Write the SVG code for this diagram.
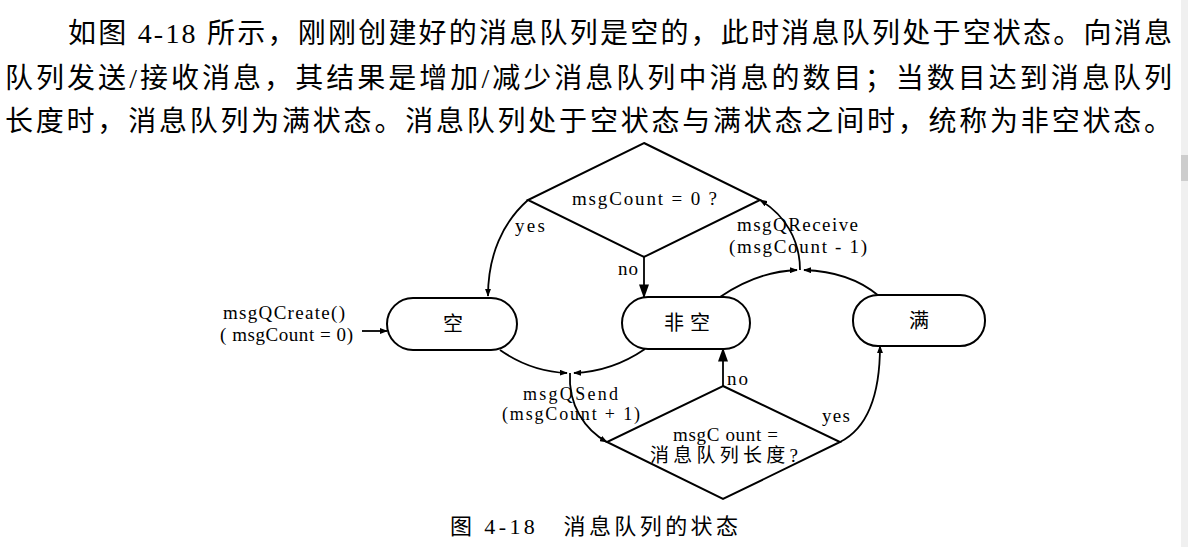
<svg xmlns="http://www.w3.org/2000/svg" width="1188" height="547" viewBox="0 0 1188 547">
<defs>
<style>
.body{font-family:"Liberation Serif","Noto Sans CJK SC",serif;font-size:28px;fill:#000}
.lbl{font-family:"Liberation Serif","Noto Sans CJK SC",serif;font-size:19px;fill:#000}
.sm{font-size:18px}
.nd{font-family:"Liberation Serif","Noto Sans CJK SC",serif;font-size:20px;fill:#000;text-anchor:middle}
.cap{font-family:"Liberation Serif","Noto Sans CJK SC",serif;font-size:22px;fill:#000}
.shape{fill:#fff;stroke:#000;stroke-width:2}
.ln{fill:none;stroke:#000;stroke-width:1.8}
</style>
<marker id="ar" viewBox="0 0 10 10" refX="9" refY="5" markerWidth="8" markerHeight="6" markerUnits="userSpaceOnUse" orient="auto" preserveAspectRatio="none">
<path d="M0,0 L10,5 L0,10 Z" fill="#000"/>
</marker>
<marker id="arb" viewBox="0 0 10 10" refX="9" refY="5" markerWidth="14" markerHeight="10" markerUnits="userSpaceOnUse" orient="auto" preserveAspectRatio="none">
<path d="M0,0 L10,5 L0,10 Z" fill="#000"/>
</marker>
</defs>
<rect x="0" y="0" width="1188" height="547" fill="#fff"/>
<rect x="1181" y="0" width="7" height="547" fill="#f0f0f0"/>
<rect x="1181" y="155" width="7" height="26" fill="#cdcdcd"/>

<g id="paragraph">
<text class="body" x="68" y="43" textLength="1104" lengthAdjust="spacing">如图 4-18 所示，刚刚创建好的消息队列是空的，此时消息队列处于空状态。向消息</text>
<text class="body" x="5" y="88" textLength="1167" lengthAdjust="spacing">队列发送/接收消息，其结果是增加/减少消息队列中消息的数目；当数目达到消息队列</text>
<text class="body" x="5" y="131" textLength="1167" lengthAdjust="spacing">长度时，消息队列为满状态。消息队列处于空状态与满状态之间时，统称为非空状态。</text>
</g>

<g id="connectors">
<path class="ln" d="M528,200 C503,222 488,255 488,296" marker-end="url(#ar)"/>
<path class="ln" d="M644,257 L644,297" marker-end="url(#arb)"/>
<path class="ln" d="M362,331 L387,331" marker-end="url(#ar)"/>
<path class="ln" d="M500,350 C520,364 542,372 567,373" marker-end="url(#ar)"/>
<path class="ln" d="M645,349 C626,362 602,372 574,373" marker-end="url(#ar)"/>
<path class="ln" d="M570,373 C568,405 585,430 607,442" marker-end="url(#ar)"/>
<path class="ln" d="M723,386 L723,349" marker-end="url(#arb)"/>
<path class="ln" d="M840,442 C868,428 880,395 880,346" marker-end="url(#ar)"/>
<path class="ln" d="M720,297 C745,280 770,271 797,270" marker-end="url(#ar)"/>
<path class="ln" d="M879,296 C860,280 835,271 804,270" marker-end="url(#ar)"/>
<path class="ln" d="M800,270 C800,240 785,215 760,200" marker-end="url(#ar)"/>
</g>

<g id="decision-empty">
<polygon class="shape" points="644,143 760,200 644,257 528,200"/>
<text class="lbl" x="572" y="205" textLength="145" lengthAdjust="spacing">msgCount = 0  ?</text>
</g>

<g id="decision-full">
<polygon class="shape" points="723,386 840,442 723,499 607,442"/>
<text class="lbl" x="673" y="441" textLength="105" lengthAdjust="spacing">msgC ount =</text>
<text class="lbl" x="650" y="462" textLength="148" lengthAdjust="spacing">消息队列长度?</text>
</g>

<g id="state-empty">
<rect class="shape" x="387" y="298" width="130" height="52" rx="26" ry="26"/>
<text class="nd" x="453" y="331">空</text>
</g>
<g id="state-nonempty">
<rect class="shape" x="622" y="297" width="128" height="52" rx="26" ry="26"/>
<text class="nd" x="687" y="330" textLength="46" lengthAdjust="spacing">非空</text>
</g>
<g id="state-full">
<rect class="shape" x="853" y="295" width="132" height="51" rx="25" ry="25"/>
<text class="nd" x="919" y="328">满</text>
</g>

<g id="labels">
<text class="lbl" x="515" y="232" textLength="30" lengthAdjust="spacing">yes</text>
<text class="lbl" x="618" y="275" textLength="20" lengthAdjust="spacing">no</text>
<text class="lbl" x="737" y="231" textLength="121" lengthAdjust="spacing">msgQReceive</text>
<text class="lbl" x="729" y="253" textLength="138" lengthAdjust="spacing">(msgCount - 1)</text>
<text class="lbl" x="223" y="319" textLength="122" lengthAdjust="spacing">msgQCreate()</text>
<text class="lbl" x="220" y="341" textLength="133" lengthAdjust="spacing">( msgCount = 0)</text>
<text class="lbl sm" x="523" y="400" textLength="95" lengthAdjust="spacing">msgQSend</text>
<text class="lbl sm" x="502" y="420" textLength="138" lengthAdjust="spacing">(msgCount + 1)</text>
<text class="lbl" x="727" y="385" textLength="21" lengthAdjust="spacing">no</text>
<text class="lbl" x="822" y="422" textLength="28" lengthAdjust="spacing">yes</text>
</g>

<g id="caption">
<text class="cap" x="450" y="534" textLength="288" lengthAdjust="spacing">图 4-18　消息队列的状态</text>
</g>
</svg>
